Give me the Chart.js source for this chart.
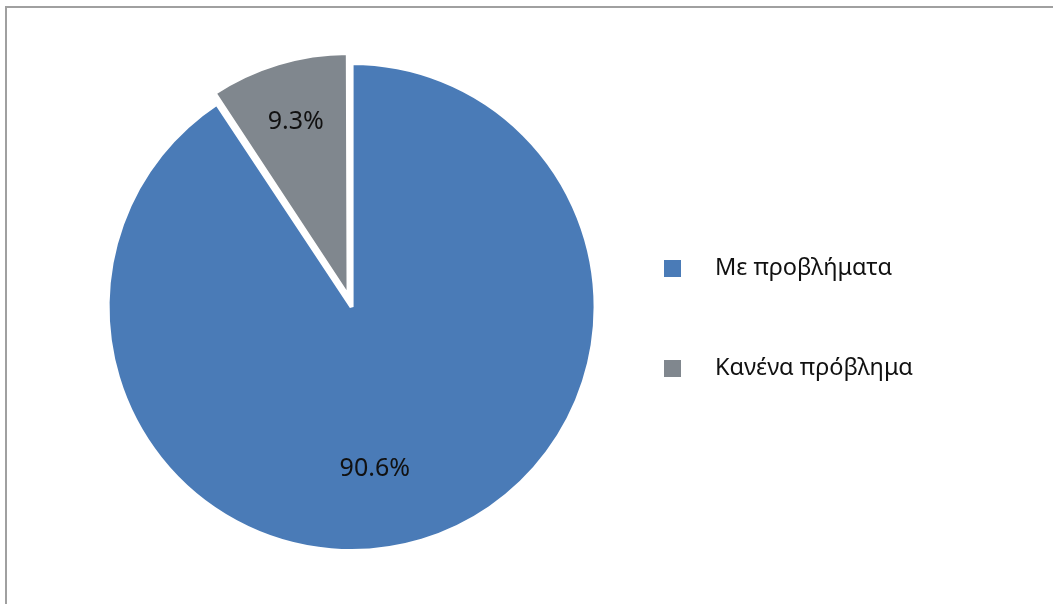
<!DOCTYPE html>
<html>
<head>
<meta charset="utf-8">
<script src="https://cdn.jsdelivr.net/npm/chart.js@4"></script>
<style>
  html, body { margin: 0; padding: 0; background: #fff; overflow: hidden; }
  #frame { position: absolute; left: 5px; top: 6px; width: 1200px; height: 800px; border: 2px solid #a0a0a0; }
  #wrap { position: absolute; left: 0; top: 0; width: 1053px; height: 604px; }
</style>
</head>
<body>
<div id="frame"></div>
<div id="wrap"><canvas id="pie" width="1053" height="604"></canvas></div>
<script>
const labels = ["Με προβλήματα", "Κανένα πρόβλημα"];
const values = [90.6, 9.3];
const colors = ["#4a7bb7", "#80878e"];
const offsets = [0, 42];

// square legend marker drawn as an image so the gap to the text can be wide
function square(color) {
  const c = document.createElement("canvas");
  c.width = 17;
  c.height = 17;
  const g = c.getContext("2d");
  g.fillStyle = color;
  g.fillRect(0, 0, 17, 17);
  return c;
}

// chart.js grows an offset slice's radius; keep it the same as the big one
const sameRadius = {
  id: "sameRadius",
  afterDatasetsUpdate(chart) {
    const arcs = chart.getDatasetMeta(0).data;
    const r = arcs[0].outerRadius;
    arcs.forEach((arc, i) => {
      const fix = 1 - Math.sin(Math.min(Math.PI, arc.circumference || 0));
      arc.outerRadius = r - (offsets[i] / 4) * fix;
    });
  },
};

const labelPos = [
  { frac: 0.67, turn: 0.15 },
  { frac: 0.75, turn: 0 },
];

const sliceLabels = {
  id: "sliceLabels",
  afterDatasetsDraw(chart) {
    const ctx = chart.ctx;
    const arcs = chart.getDatasetMeta(0).data;
    const R = arcs[0].outerRadius;
    ctx.save();
    ctx.font = "25px 'Noto Sans'";
    ctx.fillStyle = "#111";
    ctx.textAlign = "center";
    ctx.textBaseline = "middle";
    arcs.forEach((arc, i) => {
      const mid = (arc.startAngle + arc.endAngle) / 2;
      const cx = arc.x + Math.cos(mid) * offsets[i] / 4;
      const cy = arc.y + Math.sin(mid) * offsets[i] / 4;
      const a = mid + labelPos[i].turn;
      const r = R * labelPos[i].frac;
      ctx.fillText(values[i].toFixed(1) + "%", cx + Math.cos(a) * r, cy + Math.sin(a) * r);
    });
    ctx.restore();
  },
};

new Chart(document.getElementById("pie").getContext("2d"), {
  type: "pie",
  data: {
    labels: labels,
    datasets: [
      {
        data: values,
        backgroundColor: colors,
        borderColor: "#ffffff",
        borderWidth: 4,
        offset: offsets,
      },
    ],
  },
  options: {
    responsive: false,
    animation: false,
    layout: { padding: { left: 82, right: 130, top: 40, bottom: 30 } },
    plugins: {
      tooltip: { enabled: false },
      legend: {
        position: "right",
        title: { display: true, text: " ", padding: { top: 0, bottom: 55.5 }, font: { size: 20 } },
        labels: {
          usePointStyle: true,
          pointStyleWidth: 62,
          padding: 20,
          color: "#111",
          font: { family: "'Noto Sans'", size: 23.5, lineHeight: "80px" },
          generateLabels(chart) {
            const items = Chart.overrides.pie.plugins.legend.labels.generateLabels(chart);
            return items.map((it, i) => Object.assign(it, { text: [it.text], pointStyle: square(colors[i]) }));
          },
        },
      },
    },
  },
  plugins: [sameRadius, sliceLabels],
});
</script>
</body>
</html>
